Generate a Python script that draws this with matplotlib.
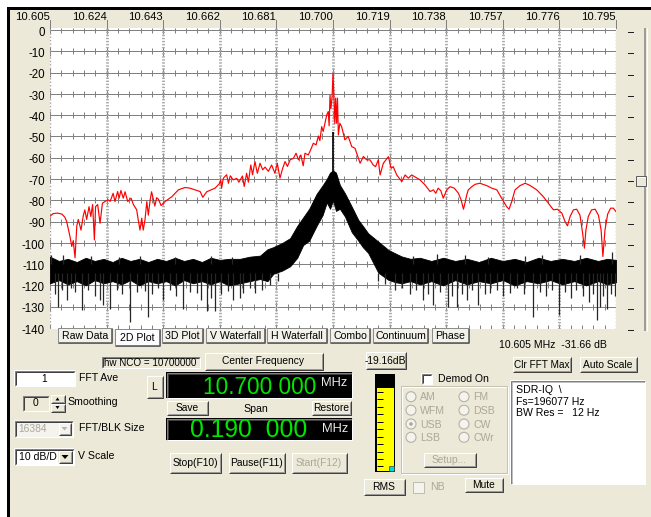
import numpy as np
import matplotlib
matplotlib.use("Agg")
import matplotlib.pyplot as plt
from matplotlib.patches import Rectangle, Circle, Polygon
from matplotlib.collections import LineCollection
from matplotlib import transforms

plt.rcParams['font.family'] = ['Liberation Sans', 'DejaVu Sans']

# ---------------- spectrum data ----------------
freq_ticks = [10.605, 10.624, 10.643, 10.662, 10.681, 10.700,
              10.719, 10.738, 10.757, 10.776, 10.795]
freq_labels = ['10.605', '10.624', '10.643', '10.662', '10.681', '10.700',
               '10.719', '10.738', '10.757', '10.776', '10.795']
db_ticks = [0, -10, -20, -30, -40, -50, -60, -70, -80, -90, -100, -110, -120, -130, -140]
db_labels = ['0', '-10', '-20', '-30', '-40', '-50', '-60', '-70', '-80', '-90',
             '-100', '-110', '-120', '-130', '-140']

# FFT max-hold trace (red)
red_freq = [10.6050, 10.6060, 10.6075, 10.6090, 10.6100, 10.6106, 10.6117, 10.6123, 10.6128,
            10.6134, 10.6140, 10.6145, 10.6154, 10.6162, 10.6167, 10.6173, 10.6181, 10.6187,
            10.6193, 10.6199, 10.6203, 10.6210, 10.6218, 10.6226, 10.6235, 10.6246, 10.6252,
            10.6262, 10.6268, 10.6277, 10.6282, 10.6288, 10.6296, 10.6302, 10.6311, 10.6322,
            10.6330, 10.6341, 10.6346, 10.6352, 10.6358, 10.6363, 10.6369, 10.6375, 10.6380,
            10.6386, 10.6391, 10.6397, 10.6402, 10.6408, 10.6414, 10.6423, 10.6436, 10.6459,
            10.6481, 10.6503, 10.6520, 10.6554, 10.6563, 10.6576, 10.6604, 10.6618, 10.6623,
            10.6626, 10.6632, 10.6643, 10.6649, 10.6655, 10.6665, 10.6677, 10.6684, 10.6696,
            10.6702, 10.6710, 10.6716, 10.6724, 10.6730, 10.6738, 10.6746, 10.6755, 10.6764,
            10.6772, 10.6783, 10.6794, 10.6805, 10.6813, 10.6822, 10.6831, 10.6839, 10.6847,
            10.6856, 10.6867, 10.6876, 10.6884, 10.6892, 10.6900, 10.6906, 10.6917, 10.6925,
            10.6934, 10.6943, 10.6951, 10.6956, 10.6962, 10.6967, 10.6973, 10.6979, 10.6984,
            10.6987, 10.6990, 10.6993, 10.6997, 10.7000, 10.7003, 10.7006, 10.7009, 10.7012,
            10.7015, 10.7018, 10.7023, 10.7029, 10.7040, 10.7051, 10.7063, 10.7074, 10.7085,
            10.7091, 10.7102, 10.7113, 10.7124, 10.7135, 10.7143, 10.7152, 10.7158, 10.7169,
            10.7175, 10.7186, 10.7195, 10.7202, 10.7214, 10.7231, 10.7242, 10.7253, 10.7264,
            10.7275, 10.7292, 10.7309, 10.7326, 10.7337, 10.7345, 10.7353, 10.7362, 10.7370,
            10.7382, 10.7393, 10.7407, 10.7421, 10.7430, 10.7438, 10.7443, 10.7449, 10.7454,
            10.7466, 10.7477, 10.7493, 10.7516, 10.7533, 10.7550, 10.7566, 10.7583, 10.7591,
            10.7600, 10.7611, 10.7628, 10.7645, 10.7661, 10.7684, 10.7706, 10.7723, 10.7740,
            10.7753, 10.7768, 10.7779, 10.7787, 10.7796, 10.7807, 10.7818, 10.7829, 10.7838,
            10.7844, 10.7849, 10.7857, 10.7868, 10.7880, 10.7891, 10.7900, 10.7906, 10.7913,
            10.7922, 10.7932, 10.7941, 10.7950]
red_db = [-87.5, -86.3, -86.0, -86.5, -88.0, -90.0, -97.0, -101.7, -99.0,
          -107.0, -92.0, -89.0, -94.0, -87.0, -84.5, -89.0, -83.0, -87.6,
          -82.0, -98.6, -83.0, -82.0, -90.8, -81.4, -80.5, -79.8, -80.5,
          -76.7, -80.6, -75.9, -79.0, -75.4, -79.0, -76.0, -80.6, -79.0,
          -82.0, -84.5, -89.0, -94.0, -88.4, -94.0, -89.0, -80.6, -87.0,
          -80.0, -76.0, -79.6, -82.7, -78.8, -79.5, -82.5, -80.6, -78.3,
          -75.1, -74.0, -74.3, -75.9, -78.6, -76.0, -74.3, -72.3, -70.4,
          -74.3, -69.6, -68.0, -72.0, -68.5, -70.4, -69.7, -71.5, -68.6,
          -73.5, -67.3, -71.5, -63.4, -68.0, -61.8, -67.3, -62.6, -65.7,
          -64.4, -66.4, -63.4, -67.3, -62.6, -69.6, -65.0, -61.8, -64.1,
          -61.0, -60.3, -57.9, -61.0, -58.7, -63.8, -57.9, -58.7, -56.3,
          -53.2, -54.0, -49.8, -52.0, -45.4, -47.7, -43.8, -39.9, -38.3,
          -45.0, -30.5, -37.0, -31.3, -20.3, -31.0, -44.0, -32.0, -43.8,
          -32.0, -49.3, -43.8, -45.4, -51.6, -50.0, -54.8, -55.6, -60.2,
          -62.6, -59.4, -61.0, -61.0, -63.4, -64.2, -61.0, -68.1, -62.6,
          -61.5, -59.5, -65.0, -64.2, -68.1, -71.2, -68.1, -69.6, -68.1,
          -69.0, -70.4, -72.8, -75.9, -75.1, -76.7, -74.3, -75.5, -79.0,
          -75.1, -73.6, -74.3, -76.7, -79.8, -84.2, -81.3, -77.5, -75.1,
          -73.6, -72.5, -72.0, -73.1, -74.3, -75.1, -79.0, -83.0, -84.2,
          -80.6, -75.1, -73.1, -72.0, -73.0, -75.1, -78.3, -81.4, -84.5,
          -84.2, -86.0, -90.0, -92.0, -87.6, -84.5, -84.2, -87.0, -95.5,
          -102.5, -94.0, -87.6, -84.5, -84.2, -87.0, -94.0, -106.4, -94.0,
          -86.5, -83.7, -83.7, -85.3]

# live FFT trace (black): noise band read as upper / lower edges
floor_freq = [10.6050, 10.6080, 10.6110, 10.6140, 10.6170, 10.6200, 10.6230, 10.6260,
              10.6290, 10.6320, 10.6350, 10.6380, 10.6410, 10.6440, 10.6470, 10.6500,
              10.6530, 10.6560, 10.6590, 10.6620, 10.6650, 10.6688, 10.6720, 10.6755,
              10.6780, 10.6800, 10.6830, 10.6856, 10.6880, 10.6900, 10.6920, 10.6945,
              10.6965, 10.6979, 10.6990, 10.7000, 10.7010, 10.7023, 10.7040, 10.7063,
              10.7085, 10.7100, 10.7118, 10.7152, 10.7186, 10.7210, 10.7231, 10.7260,
              10.7292, 10.7330, 10.7370, 10.7410, 10.7450, 10.7490, 10.7530, 10.7570,
              10.7610, 10.7650, 10.7690, 10.7730, 10.7770, 10.7810, 10.7850, 10.7890,
              10.7920, 10.7950]
floor_top = [-106.5, -108.5, -107.5, -109.0, -107.0, -108.5, -107.5, -109.0,
             -107.0, -108.5, -107.5, -109.0, -107.5, -108.5, -107.0, -108.5,
             -107.5, -109.0, -107.0, -108.0, -107.5, -107.5, -106.5, -106.0,
             -103.0, -102.0, -100.0, -97.8, -92.0, -88.0, -84.0, -77.0,
             -73.0, -70.0, -67.0, -66.0, -67.0, -72.8, -76.7, -83.0,
             -89.2, -92.0, -95.5, -99.4, -103.3, -105.0, -106.4, -107.5,
             -107.0, -108.5, -107.0, -108.5, -107.5, -109.0, -107.0, -108.5,
             -107.5, -109.0, -107.0, -108.5, -107.5, -108.5, -107.0, -108.5,
             -107.5, -108.0]
floor_bottom = [-119.0, -117.5, -119.5, -118.0, -120.0, -117.5, -119.0, -118.0,
                -119.5, -117.5, -120.0, -118.0, -119.0, -118.0, -120.0, -117.5,
                -119.0, -118.0, -119.5, -118.0, -120.0, -119.0, -118.0, -117.0,
                -118.0, -114.5, -113.0, -111.0, -107.0, -101.0, -99.0, -92.0,
                -87.0, -81.0, -84.0, -80.0, -85.0, -84.0, -87.6, -95.0,
                -99.0, -102.0, -104.7, -114.0, -117.4, -118.5, -119.0, -118.0,
                -119.5, -118.0, -120.0, -117.5, -119.5, -118.0, -119.0, -117.5,
                -120.0, -118.0, -119.0, -117.5, -119.5, -118.0, -120.0, -118.0,
                -119.5, -118.5]

# downward noise spikes below the band
dip_freq = [10.6067, 10.6077, 10.6090, 10.6106, 10.6120, 10.6134, 10.6157, 10.6178,
            10.6201, 10.6218, 10.6228, 10.6251, 10.6275, 10.6292, 10.6319, 10.6342,
            10.6369, 10.6379, 10.6392, 10.6413, 10.6429, 10.6453, 10.6473, 10.6496,
            10.6520, 10.6542, 10.6557, 10.6576, 10.6590, 10.6604, 10.6624, 10.6648,
            10.6665, 10.6688, 10.6698, 10.6721, 10.6738, 10.6762, 10.6789, 10.6815,
            10.7152, 10.7175, 10.7208, 10.7232, 10.7258, 10.7279, 10.7302, 10.7319,
            10.7336, 10.7359, 10.7386, 10.7399, 10.7415, 10.7433, 10.7449, 10.7467,
            10.7488, 10.7510, 10.7527, 10.7551, 10.7571, 10.7594, 10.7618, 10.7641,
            10.7672, 10.7695, 10.7715, 10.7735, 10.7759, 10.7779, 10.7799, 10.7816,
            10.7840, 10.7859, 10.7873, 10.7885, 10.7896, 10.7906, 10.7920, 10.7933,
            10.7947]
dip_db = [-124.0, -130.0, -122.0, -127.0, -121.0, -123.0, -131.5, -122.0,
          -125.0, -126.8, -129.0, -131.0, -122.0, -124.0, -137.0, -123.0,
          -122.5, -134.6, -124.0, -121.0, -126.8, -122.0, -125.0, -131.0,
          -123.0, -123.6, -127.0, -132.0, -126.0, -132.0, -124.0, -122.5,
          -126.8, -126.0, -123.6, -121.0, -123.6, -122.0, -120.0, -118.0,
          -118.0, -119.5, -122.0, -121.0, -124.0, -122.0, -126.8, -124.0,
          -129.0, -123.0, -130.0, -125.0, -130.0, -124.0, -126.8, -122.0,
          -129.0, -124.0, -123.6, -122.0, -125.0, -123.6, -121.0, -124.0,
          -135.0, -123.0, -125.0, -122.0, -133.8, -123.0, -126.0, -122.0,
          -125.2, -128.0, -124.0, -136.2, -130.0, -125.0, -131.0, -124.0,
          -125.0]

# upward noise spikes above the band
peak_freq = [10.6054, 10.6094, 10.6187, 10.6282, 10.6352, 10.6470, 10.6590, 10.6660,
             10.7270, 10.7350, 10.7443, 10.7520, 10.7645, 10.7700, 10.7829, 10.7935]
peak_db = [-105.6, -105.5, -106.0, -106.5, -106.0, -106.5, -106.0, -106.5,
           -106.0, -105.0, -105.5, -106.5, -106.0, -105.8, -105.5, -104.5]

carrier_freq = 10.700
carrier_db = -48.0

cursor_text = "10.605 MHz  -31.66 dB"

# ---------------- figure / window ----------------
W, H = 651, 517
FACE = '#ECE9D8'
fig = plt.figure(figsize=(W / 100, H / 100), dpi=100)

bg = fig.add_axes([0, 0, 1, 1])
bg.set_xlim(0, W)
bg.set_ylim(H, 0)
bg.axis('off')
bg.add_patch(Rectangle((0, 0), W, H, fc='white', ec='none'))
bg.add_patch(Rectangle((7, 7), W - 7, H - 7, fc='black', ec='none'))
bg.add_patch(Rectangle((10, 10), W - 10, H - 10, fc=FACE, ec='none'))

# ---------------- spectrum plot ----------------
PX0, PX1, PY0, PY1 = 50, 616, 28, 329
PX_PER_DB = 2.1286
ax = fig.add_axes([PX0 / W, 1 - PY1 / H, (PX1 - PX0) / W, (PY1 - PY0) / H])
ax.set_xlim(freq_ticks[0], freq_ticks[-1])
ax.set_ylim(db_ticks[-1] - 1 / PX_PER_DB, db_ticks[0] + 2 / PX_PER_DB)
ax.set_facecolor('white')
for s in ax.spines.values():
    s.set_visible(False)
ax.set_xticks([])
ax.set_yticks([])

GRID = '#808080'
LW1 = 0.72  # one pixel

# horizontal division lines
ax.hlines(db_ticks[:-1], freq_ticks[0], freq_ticks[-1], color=GRID, lw=LW1, zorder=1)

# tick crosses along each division line
n_minor = 5
minor_f = []
for a, b in zip(freq_ticks[:-1], freq_ticks[1:]):
    minor_f.extend(np.linspace(a, b, n_minor + 1)[1:-1])
segs = []
for d in db_ticks:
    for f in minor_f:
        segs.append([(f, d - 1.4), (f, min(d + 1.4, 0.9))])
    for f in freq_ticks:
        segs.append([(f, d - 2.0), (f, min(d + 2.0, 0.9))])
ax.add_collection(LineCollection(segs, colors=GRID, linewidths=LW1, zorder=1))

# dotted major verticals and plot edges
for f in freq_ticks[1:-1]:
    ax.axvline(f, color='#A8A8A8', lw=2.0, ls=(0, (0.5, 0.6)), zorder=1)
for f in (freq_ticks[0], freq_ticks[-1]):
    ax.axvline(f, color='#A0A0A0', lw=1.0, ls=(0, (1, 1.5)), zorder=1)

# black live trace
ax.fill_between(floor_freq, floor_bottom, floor_top, color='black', lw=0.6, zorder=3)
ax.vlines(dip_freq, -114.0, dip_db, color='#262626', lw=0.9, zorder=3)
ax.vlines(peak_freq, -110.0, peak_db, color='#262626', lw=0.9, zorder=3)
ax.vlines([carrier_freq], -80.0, carrier_db, color='black', lw=1.2, zorder=3)

# red max-hold trace
ax.plot(red_freq, red_db, color='#FF0000', lw=0.85, zorder=4)

# tick labels
tx = ax.get_xaxis_transform()
for f, lab in zip(freq_ticks, freq_labels):
    ax.text(f, 1.0 + (PY0 - 17) / (PY1 - PY0), lab, transform=tx, ha='right', va='center',
            fontsize=8.1, color='black', clip_on=False)
    ax.plot([f, f], [1.0 + (PY0 - 28) / (PY1 - PY0), 1.0 + (PY0 - 20) / (PY1 - PY0)],
            transform=tx, color=GRID, lw=LW1, clip_on=False)
ty = transforms.blended_transform_factory(ax.transAxes, ax.transData)
for d, lab in zip(db_ticks, db_labels):
    ax.text(-5 / (PX1 - PX0), d - 1.3, lab, transform=ty, ha='right', va='center',
            fontsize=8.3, color='black', clip_on=False)
    ax.plot([(628 - PX0) / (PX1 - PX0), (633 - PX0) / (PX1 - PX0)], [d - 1.0, d - 1.0],
            transform=ty, color='#202020', lw=LW1, clip_on=False)

# ---------------- UI overlay ----------------
ui = fig.add_axes([0, 0, 1, 1])
ui.set_xlim(0, W)
ui.set_ylim(H, 0)
ui.axis('off')


def line(xs, ys, c, lw=LW1, z=5):
    ui.plot(xs, ys, color=c, lw=lw, zorder=z, solid_capstyle='butt')


def raised(x0, y0, x1, y1, fc=FACE, z=5):
    ui.add_patch(Rectangle((x0, y0), x1 - x0, y1 - y0, fc=fc, ec='none', zorder=z))
    line([x0 + 0.5, x0 + 0.5, x1 - 0.5], [y1 - 0.5, y0 + 0.5, y0 + 0.5], 'white', z=z + 0.1)
    line([x0 + 0.5, x1 - 0.5, x1 - 0.5], [y1 - 0.5, y1 - 0.5, y0 + 0.5], '#404040', z=z + 0.1)
    line([x0 + 1.5, x1 - 1.5, x1 - 1.5], [y1 - 1.5, y1 - 1.5, y0 + 1.5], '#9A9A9A', z=z + 0.1)


def sunken(x0, y0, x1, y1, fc='white', z=5):
    ui.add_patch(Rectangle((x0, y0), x1 - x0, y1 - y0, fc=fc, ec='none', zorder=z))
    line([x0 + 0.5, x0 + 0.5, x1 - 0.5], [y1 - 0.5, y0 + 0.5, y0 + 0.5], '#808080', z=z + 0.1)
    line([x0 + 1.5, x0 + 1.5, x1 - 1.5], [y1 - 1.5, y0 + 1.5, y0 + 1.5], '#404040', z=z + 0.1)
    line([x0 + 0.5, x1 - 0.5, x1 - 0.5], [y1 - 0.5, y1 - 0.5, y0 + 0.5], 'white', z=z + 0.1)


def label(x, y, s, ha='left', c='black', fs=7.4, z=6, **kw):
    return ui.text(x, y, s, ha=ha, va='center', color=c, fontsize=fs, zorder=z, **kw)


def button(x0, y0, x1, y1, s, enabled=True, fs=7.4):
    raised(x0, y0, x1, y1)
    c = 'black' if enabled else '#ACA899'
    label((x0 + x1) / 2, (y0 + y1) / 2 + 0.5, s, ha='center', c=c, fs=fs)


# view tabs below the plot
tabs = [("Raw Data", 58, 112), ("2D Plot", 115, 160), ("3D Plot", 162, 203),
        ("V Waterfall", 206, 265), ("H Waterfall", 267, 327), ("Combo", 330, 370),
        ("Continuum", 373, 428), ("Phase", 432, 469)]
for name, x0, x1 in tabs:
    if name == "2D Plot":
        y0, y1 = 329, 346
        fc = '#FCFCFE'
    else:
        y0, y1 = 328, 343
        fc = '#F2F1EA'
    ui.add_patch(Rectangle((x0, y0), x1 - x0, y1 - y0, fc=fc, ec='#8C8C8C', lw=LW1, zorder=7))
    line([x0 + 1, x1], [y1 - 0.2, y1 - 0.2], '#606060', lw=1.2, z=7.1)
    line([x1 - 0.2, x1 - 0.2], [y0 + 1, y1], '#606060', lw=1.2, z=7.1)
    label((x0 + x1) / 2, (y0 + y1) / 2 + 0.5, name, ha='center', fs=7.6, z=8)

label(553, 345, cursor_text, ha='center', fs=7.6)

# right-hand level slider
line([644.5, 644.5], [28, 331], '#9A9A9A', lw=1.4)
line([646.5, 646.5], [28, 331], 'white', lw=0.8)
ui.add_patch(Rectangle((636, 176), 10, 10, fc=FACE, ec='#606060', lw=LW1, zorder=6))
line([636.5, 645], [176.5, 176.5], 'white', z=6.2)

# NCO box and centre-frequency button
sunken(101, 356, 200, 368, fc=FACE)
label(150.5, 362.5, "hw NCO = 10700000", ha='center', fs=7.1)
button(204, 352, 323, 370, "Center Frequency")

# FFT averaging
sunken(14, 370, 75, 386)
label(44.5, 378.5, "1", ha='center')
label(79, 378, "FFT Ave", fs=7.6)

# smoothing spinner
sunken(22, 395, 49, 411, fc=FACE)
label(35.5, 403.5, "0", ha='center')
raised(50, 394, 65, 403)
raised(50, 403, 65, 412)
ui.add_patch(Polygon([[55.5, 400.5], [59.5, 400.5], [57.5, 397.5]], closed=True, fc='black', ec='none', zorder=6))
ui.add_patch(Polygon([[55.5, 406], [59.5, 406], [57.5, 409]], closed=True, fc='black', ec='none', zorder=6))
label(67, 402, "Smoothing", fs=7.6)

# FFT block size (disabled)
sunken(14, 420, 73, 437, fc='#F4F3EE')
label(18, 428.5, "16384", c='#ACA899')
raised(58, 422, 71, 435, fc='#F4F3EE')
ui.add_patch(Polygon([[61.5, 427], [67.5, 427], [64.5, 430.5]], closed=True, fc='#B8B4A8', ec='none', zorder=6))
label(79, 428, "FFT/BLK Size", fs=7.6)

# vertical scale combo
sunken(14, 448, 74, 465)
label(19, 456.5, "10 dB/D", fs=7.6)
raised(58, 450, 72, 463)
ui.add_patch(Polygon([[61.5, 455], [68.5, 455], [65, 459]], closed=True, fc='black', ec='none', zorder=6))
label(78, 456, "V Scale", fs=7.6)

# tuning displays
button(146, 375, 163, 398, "L")
sunken(166, 372, 352, 398, fc='black')
ui.text(203, 387, "10.700 000", ha='left', va='center', color='#00E600', fontsize=16.3, zorder=6)
ui.text(321, 383, "MHz", ha='left', va='center', color='#E8E8E8', fontsize=9.3, zorder=6)
button(166, 400, 208, 415, "Save")
label(256, 409, "Span", ha='center', fs=7.6)
button(311, 400, 351, 415, "Restore")
sunken(166, 418, 352, 440, fc='black')
ui.text(190, 430, "0.190  000", ha='left', va='center', color='#00E600', fontsize=17.8, zorder=6)
ui.text(322, 429, "MHz", ha='left', va='center', color='#E8E8E8', fontsize=9.3, zorder=6)

button(169, 452, 221, 473, "Stop(F10)")
button(228, 452, 285, 473, "Pause(F11)")
button(291, 452, 347, 473, "Start(F12)", enabled=False)

# signal level button and meter
raised(365, 351, 406, 369)
t = label(385.5, 360.5, "-19.16dB", ha='center', fs=7.4)
t.set_clip_path(Rectangle((366, 351), 39, 18, transform=ui.transData))
ui.add_patch(Rectangle((375, 374), 20, 98, fc='black', ec='none', zorder=5))
ui.add_patch(Rectangle((376.5, 388), 17, 82.5, fc='#FFFF00', ec='none', zorder=5.1))
for yy in [391.7, 399.2, 406.7, 414.2, 421.7, 429.2, 436.7, 444.2, 451.7, 459.2, 466.2]:
    line([377, 383], [yy, yy], 'black', z=5.2)
ui.add_patch(Rectangle((388.5, 465.5), 5, 5, fc='#00D8E8', ec='#404040', lw=0.5, zorder=5.3))

# demodulator group
sunken(421, 373, 432, 384)
label(438, 379, "Demod On", fs=7.6)
ui.add_patch(Rectangle((400.5, 385.5), 106, 87, fc='none', ec='#C5C2B2', lw=LW1, zorder=5))
ui.add_patch(Rectangle((401.5, 386.5), 106, 87, fc='none', ec='white', lw=LW1, zorder=4.9))
modes = [("AM", 411, 396.7), ("WFM", 411, 410.2), ("USB", 411, 424), ("LSB", 411, 437.3),
         ("FM", 464, 396.7), ("DSB", 464, 410.2), ("CW", 464, 424), ("CWr", 464, 437.3)]
for name, cx, cy in modes:
    ui.add_patch(Circle((cx, cy), 5, fc='#F4F3EE', ec='#B5B2A4', lw=0.8, zorder=6))
    if name == "USB":
        ui.add_patch(Circle((cx, cy), 1.8, fc='#ACA899', ec='none', zorder=6.1))
    label(cx + 9, cy + 0.5, name, c='#ACA899', fs=7.6)
button(423, 452, 476, 467, "Setup...", enabled=False)

button(363, 478, 405, 495, "RMS")
ui.add_patch(Rectangle((412.5, 481.5), 11, 11, fc='#F4F3EE', ec='#C0BDB0', lw=LW1, zorder=6))
label(430, 487.5, "NB", c='#ACA899', fs=7.6)
button(464, 477, 503, 492, "Mute")

# right panel
button(512, 356, 571, 372, "Clr FFT Max", fs=7.2)
button(579, 356, 637, 372, "Auto Scale")
sunken(510, 380, 645, 484)
line([511.5, 511.5, 643.5], [482.5, 381.5, 381.5], '#C0C0C0', z=5.2)
label(516, 390, "SDR-IQ  \\", fs=7.6)
label(516, 401.7, "Fs=196077 Hz", fs=7.6)
label(516, 413.3, "BW Res =   12 Hz", fs=7.6)

fig.savefig("out.png", dpi=100)
